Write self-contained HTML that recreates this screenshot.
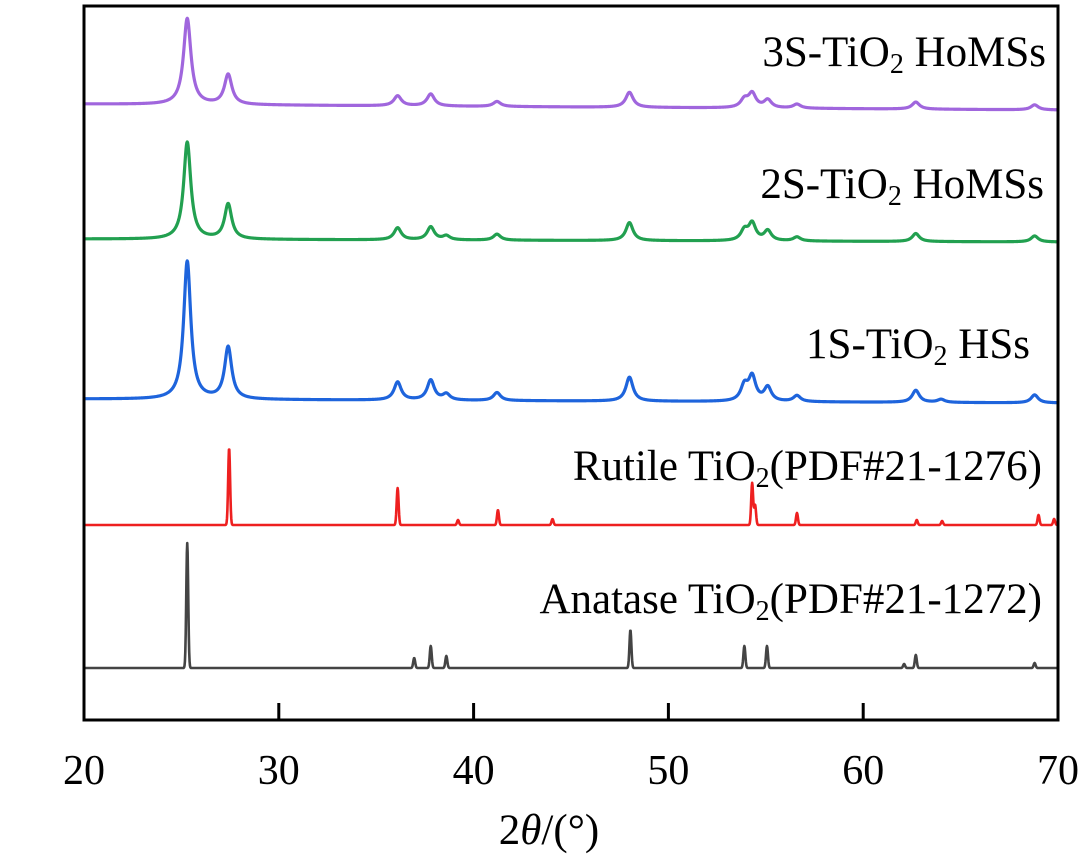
<!DOCTYPE html>
<html><head><meta charset="utf-8"><style>
html,body{margin:0;padding:0;background:#fff;}
svg{display:block;font-family:"Liberation Serif",serif;}
</style></head><body>
<svg id="chart" width="1081" height="866" viewBox="0 0 1081 866">
<g id="series"></g>
<rect x="84" y="6" width="974" height="714" fill="none" stroke="#000" stroke-width="3"/>
<g id="ticks"></g>
<g font-size="43" fill="#000" text-anchor="end">
<text x="1046" y="66">3S-TiO<tspan font-size="28" dy="7">2</tspan><tspan dy="-7"> HoMSs</tspan></text>
<text x="1044" y="198">2S-TiO<tspan font-size="28" dy="7">2</tspan><tspan dy="-7"> HoMSs</tspan></text>
<text x="1030" y="358">1S-TiO<tspan font-size="28" dy="7">2</tspan><tspan dy="-7"> HSs</tspan></text>
<text x="1042" y="480">Rutile TiO<tspan font-size="28" dy="7">2</tspan><tspan dy="-7">(PDF#21-1276)</tspan></text>
<text x="1042" y="613">Anatase TiO<tspan font-size="28" dy="7">2</tspan><tspan dy="-7">(PDF#21-1272)</tspan></text>
</g>
<text x="549" y="844" font-size="43" text-anchor="middle">2<tspan font-style="italic">θ</tspan>/(°)</text>
</svg>
<script>
const xTicks=[20,30,40,50,60,70];
const pos3S=[25.3,27.4,36.1,37.8,41.2,48.0,53.9,54.3,55.1,56.6,62.7,68.8];
const h3S=[86,30,10,12,5,15,8,14,8,4,7,5];
const pos2S=[25.3,27.4,36.1,37.8,38.6,41.2,48.0,53.9,54.3,55.1,56.6,62.7,68.8];
const h2S=[97,35,12,13,4,6,18,10,17,10,4,8,6];
const pos1S=[25.3,27.4,36.1,37.8,38.6,41.2,48.0,53.9,54.3,55.1,56.6,62.7,64.0,68.8];
const h1S=[138,52,18,20,6,8,24,15,24,14,6,12,3,8];
const posRut=[27.45,36.1,39.2,41.25,44.05,54.3,54.45,56.6,62.75,64.05,69.0,69.8];
const hRut=[77,37,5,15,6,42,20,12,5,4,10,6];
const posAna=[25.3,36.95,37.8,38.6,48.05,53.9,55.06,62.1,62.7,68.8];
const hAna=[125,10,22,12,38,22,22,4,13,5];
const X=v=>84+(v-20)*(974/50);
const svg=document.getElementById('series');
const NS='http://www.w3.org/2000/svg';
function curve(pos,h,base0,base1,w,lor,color,sw,name){
  let d='';
  for(let i=0;i<=2500;i++){
    const t=20+50*i/2500;
    let y=base0+(base1-base0)*(t-20)/50;
    for(let k=0;k<pos.length;k++){
      const u=(t-pos[k])/w;
      y-=h[k]*(lor?1/(1+u*u):Math.exp(-u*u));
    }
    d+=(i?'L':'M')+X(t).toFixed(2)+' '+y.toFixed(2);
  }
  const p=document.createElementNS(NS,'path');
  p.setAttribute('d',d);p.setAttribute('fill','none');p.setAttribute('stroke',color);
  p.setAttribute('stroke-width',sw);p.setAttribute('stroke-linejoin','round');
  
  
  svg.appendChild(p);
}
curve(pos3S,h3S,104,110,0.23,true,'#a066dd',3.2,'series-3s');
curve(pos2S,h2S,239,242,0.22,true,'#22a050',3.2,'series-2s');
curve(pos1S,h1S,399,403,0.22,true,'#1e64dc',3.2,'series-1s');
curve(posRut,hRut,525,525,0.07,false,'#ee2020',2.6,'series-rutile');
curve(posAna,hAna,668,668,0.07,false,'#444444',2.6,'series-anatase');
const tg=document.getElementById('ticks');
xTicks.forEach(v=>{
  if(v>20&&v<70){
    const l=document.createElementNS(NS,'line');
    l.setAttribute('x1',X(v));l.setAttribute('x2',X(v));l.setAttribute('y1',720);l.setAttribute('y2',703);
    l.setAttribute('stroke','#000');l.setAttribute('stroke-width',3);
    
    
    tg.appendChild(l);
  }
  const t=document.createElementNS(NS,'text');
  t.setAttribute('x',X(v));t.setAttribute('y',784);t.setAttribute('font-size',42);t.setAttribute('text-anchor','middle');
  t.textContent=v;
  
  
  tg.appendChild(t);
});
</script>
</body></html>
